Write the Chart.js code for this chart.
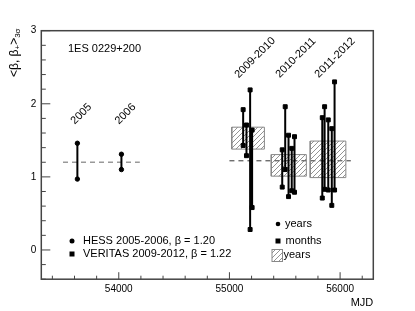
<!DOCTYPE html>
<html>
<head>
<meta charset="utf-8">
<script src="https://cdn.jsdelivr.net/npm/chart.js@4.4.0/dist/chart.umd.min.js"></script>
<style>
  body { margin: 0; background: #fff; }
</style>
</head>
<body>
<canvas id="betaChart" width="415" height="311"></canvas>
<script>
// HESS (yearly ranges)
const hessLabels = ['2005', '2006'];
const hessMJD = [53626, 54024];
const hessHigh = [1.46, 1.31];
const hessLow = [0.97, 1.10];
const hessBeta = 1.20;
const hessBetaSpan = [53496, 54190];

// VERITAS yearly boxes
const yearLabels = ['2009-2010', '2010-2011', '2011-2012'];
const yearStart = [55021, 55378, 55730];
const yearEnd = [55316, 55695, 56052];
const yearHigh = [1.68, 1.305, 1.49];
const yearLow = [1.38, 1.01, 0.99];

// VERITAS monthly ranges
const monthMJD = [55124, 55154, 55187, 55205, 55477, 55504, 55534, 55563, 55588, 55839, 55860, 55893, 55925, 55950];
const monthHigh = [1.92, 1.71, 2.19, 1.64, 1.37, 1.96, 1.57, 1.39, 1.55, 1.81, 1.96, 1.78, 1.66, 2.30];
const monthLow = [1.43, 1.29, 0.28, 0.58, 0.86, 1.10, 0.73, 0.81, 0.79, 0.71, 0.83, 0.82, 0.61, 0.82];
const veritasBeta = 1.22;
const veritasBetaSpan = [55000, 56097];

const xTicks = [54000, 55000, 56000];
const yTicks = [0, 1, 2, 3];

const FONT = '"Liberation Sans", Arial, sans-serif';
const AXIS = '#444';

function hatchPattern() {
  const c = document.createElement('canvas');
  c.width = 5; c.height = 5;
  const g = c.getContext('2d');
  g.strokeStyle = '#777';
  g.lineWidth = 0.8;
  g.beginPath();
  g.moveTo(0, 5); g.lineTo(5, 0);
  g.moveTo(-1, 1); g.lineTo(1, -1);
  g.moveTo(4, 6); g.lineTo(6, 4);
  g.stroke();
  return g.createPattern(c, 'repeat');
}
const HATCH = hatchPattern();

function ranges(xs, hi, lo) {
  const pts = [];
  xs.forEach((x, i) => {
    pts.push({x: x, y: hi[i]}, {x: x, y: lo[i]}, {x: x, y: null});
  });
  return pts;
}

const datasets = [
  {
    label: 'HESS',
    data: ranges(hessMJD, hessHigh, hessLow),
    showLine: true,
    borderColor: '#000',
    borderWidth: 2,
    pointStyle: 'circle',
    pointRadius: 2.2,
    pointBackgroundColor: '#000',
    pointBorderColor: '#000',
    pointBorderWidth: 1,
    order: 0
  },
  {
    label: 'months',
    data: ranges(monthMJD, monthHigh, monthLow),
    showLine: true,
    borderColor: '#000',
    borderWidth: 2,
    pointStyle: 'rect',
    pointRadius: 2.8,
    pointBackgroundColor: '#000',
    pointBorderColor: '#000',
    pointBorderWidth: 1,
    order: 1
  },
  {
    label: 'HESS beta',
    data: [{x: hessBetaSpan[0], y: hessBeta}, {x: hessBetaSpan[1], y: hessBeta}],
    showLine: true,
    borderColor: '#999',
    borderWidth: 1.5,
    borderDash: [5, 4],
    pointRadius: 0,
    order: 10
  },
  {
    label: 'VERITAS beta',
    data: [{x: veritasBetaSpan[0], y: veritasBeta}, {x: veritasBetaSpan[1], y: veritasBeta}],
    showLine: true,
    borderColor: '#333',
    borderWidth: 1,
    borderDash: [5, 4],
    pointRadius: 0,
    order: 10
  }
];

yearLabels.forEach((lab, i) => {
  datasets.push({
    label: lab,
    data: [
      {x: yearStart[i], y: yearLow[i]},
      {x: yearEnd[i], y: yearLow[i]},
      {x: yearEnd[i], y: yearHigh[i]},
      {x: yearStart[i], y: yearHigh[i]},
      {x: yearStart[i], y: yearLow[i]}
    ],
    showLine: true,
    fill: 'shape',
    backgroundColor: HATCH,
    borderColor: '#888',
    borderWidth: 1,
    pointRadius: 0,
    order: 5
  });
});

const decorations = {
  id: 'decorations',
  afterDraw(chart) {
    const ctx = chart.ctx;
    const a = chart.chartArea;
    const xs = chart.scales.x;
    const ys = chart.scales.y;
    ctx.save();

    // frame
    ctx.strokeStyle = AXIS;
    ctx.lineWidth = 1.5;
    ctx.strokeRect(a.left, a.top, a.right - a.left, a.bottom - a.top);

    // ticks (inside, ROOT style)
    ctx.lineWidth = 1;
    ctx.beginPath();
    for (let k = -2; k <= 15; k++) {
      const py = ys.getPixelForValue(k * 0.2);
      if (py < a.top - 0.5 || py > a.bottom + 0.5) continue;
      const len = k % 5 === 0 ? 9 : 4.5;
      ctx.moveTo(a.left, py); ctx.lineTo(a.left + len, py);
    }
    for (let m = 53400; m <= 56300; m += 200) {
      const px = xs.getPixelForValue(m);
      const len = m % 1000 === 0 ? 7 : 3.5;
      ctx.moveTo(px, a.bottom); ctx.lineTo(px, a.bottom - len);
    }
    ctx.stroke();

    ctx.fillStyle = '#000';
    ctx.font = '11px ' + FONT;

    // source name
    ctx.textAlign = 'left';
    ctx.textBaseline = 'middle';
    ctx.fillText('1ES 0229+200', 68, 49);

    // rotated period labels
    function rotated(text, x, y) {
      ctx.save();
      ctx.translate(x, y);
      ctx.rotate(-Math.PI / 4);
      ctx.textAlign = 'center';
      ctx.textBaseline = 'middle';
      ctx.fillText(text, 0, 0);
      ctx.restore();
    }
    hessLabels.forEach((lab, i) => {
      rotated(lab, xs.getPixelForValue(hessMJD[i]) + 4, ys.getPixelForValue(1.86));
    });
    yearLabels.forEach((lab, i) => {
      const cx = xs.getPixelForValue((yearStart[i] + yearEnd[i]) / 2);
      rotated(lab, cx + 7, ys.getPixelForValue(2.63));
    });

    // legend bottom left
    ctx.textAlign = 'left';
    ctx.beginPath(); ctx.arc(72, 241, 2.5, 0, Math.PI * 2); ctx.fill();
    ctx.fillRect(69.5, 251.5, 5, 5);
    ctx.fillText('HESS 2005-2006, \u03b2 = ' + hessBeta.toFixed(2), 83, 241);
    ctx.fillText('VERITAS 2009-2012, \u03b2 = ' + veritasBeta.toFixed(2), 83, 254);

    // legend bottom right
    ctx.beginPath(); ctx.arc(278, 224, 2.3, 0, Math.PI * 2); ctx.fill();
    ctx.fillRect(275.5, 238.5, 5, 5);
    ctx.fillText('years', 285, 224);
    ctx.fillText('months', 285.5, 241);
    ctx.fillStyle = HATCH;
    ctx.fillRect(272, 249.5, 10.5, 12);
    ctx.strokeStyle = '#888';
    ctx.strokeRect(272, 249.5, 10.5, 12);
    ctx.fillStyle = '#000';
    ctx.fillText('years', 283.5, 255);

    // y axis title <beta, beta_+>_3sigma, reading upward from y = 77
    ctx.translate(15, 77);
    ctx.rotate(-Math.PI / 2);
    ctx.textAlign = 'left';
    ctx.textBaseline = 'middle';
    const parts = [
      ['<\u03b2, \u03b2', 12, 0],
      ['+', 8, 3],
      ['>', 12, 0],
      ['3\u03c3', 8, 3]
    ];
    let px = 0;
    parts.forEach(p => {
      ctx.font = p[1] + 'px ' + FONT;
      ctx.fillText(p[0], px, p[2]);
      px += ctx.measureText(p[0]).width;
    });
    ctx.restore();
  }
};

const BETA = document.getElementById('betaChart');

let betaChart = new Chart(BETA, {
  type: 'scatter',
  data: { datasets: datasets },
  options: {
    responsive: false,
    animation: false,
    layout: { padding: { top: 30.7, right: 41.7, bottom: 0, left: 0 } },
    plugins: {
      legend: { display: false },
      tooltip: { enabled: false }
    },
    scales: {
      x: {
        type: 'linear',
        min: 53300,
        max: 56300,
        grid: { display: false, drawTicks: false, tickLength: 0 },
        border: { display: false },
        afterBuildTicks(scale) { scale.ticks = xTicks.map(v => ({value: v})); },
        afterFit(scale) { scale.height = 31.8; },
        ticks: {
          color: '#000',
          padding: 4,
          maxRotation: 0,
          font: { family: FONT, size: 10 },
          callback: v => String(v)
        },
        title: {
          display: true,
          text: 'MJD',
          align: 'end',
          color: '#000',
          font: { family: FONT, size: 11 },
          padding: { top: 0, bottom: 1 }
        }
      },
      y: {
        type: 'linear',
        min: -0.4,
        max: 3,
        grid: { display: false, drawTicks: false, tickLength: 0 },
        border: { display: false },
        afterBuildTicks(scale) { scale.ticks = yTicks.map(v => ({value: v})); },
        afterFit(scale) { scale.width = 41.3; },
        ticks: {
          color: '#000',
          padding: 5,
          font: { family: FONT, size: 10 },
          callback: v => String(v)
        }
      }
    }
  },
  plugins: [decorations]
});
</script>
</body>
</html>
